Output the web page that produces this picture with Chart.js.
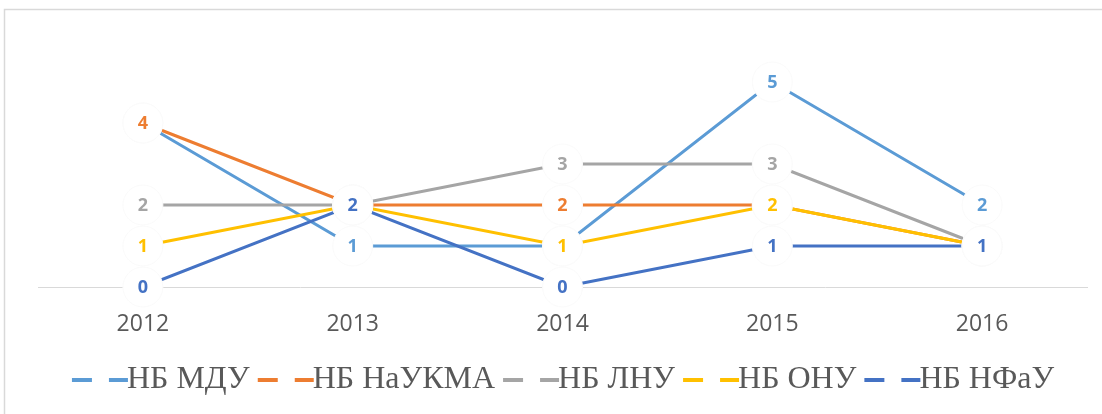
<!DOCTYPE html>
<html>
<head>
<meta charset="utf-8">
<script src="https://cdn.jsdelivr.net/npm/chart.js@4.4.0/dist/chart.umd.min.js"></script>
<style>
    html, body { margin: 0; padding: 0; background: #ffffff; }
    #wrap { width: 1102px; height: 414px; }
</style>
</head>
<body>
<div id="wrap"><canvas id="chart"></canvas></div>
<script>
// Data
const years = ['2012', '2013', '2014', '2015', '2016'];
const seriesNames = ['НБ МДУ', 'НБ НаУКМА', 'НБ ЛНУ', 'НБ ОНУ', 'НБ НФаУ'];
const mduValues = [4, 1, 1, 5, 2];
const naukmaValues = [4, 2, 2, 2, 1];
const lnuValues = [2, 2, 3, 3, 1];
const onuValues = [1, 2, 1, 2, 1];
const nfauValues = [0, 2, 0, 1, 1];

// Colors
const colors = ['#5b9bd5', '#ed7d31', '#a5a5a5', '#ffc000', '#4472c4'];
const allValues = [mduValues, naukmaValues, lnuValues, onuValues, nfauValues];

// Legend marker: dash, gap, dash (Excel style)
function makeMarker(color) {
    const c = document.createElement('canvas');
    c.width = 112;
    c.height = 6;
    const g = c.getContext('2d');
    g.fillStyle = color;
    g.fillRect(37, 1, 20, 4);
    g.fillRect(74, 1, 19, 4);
    return c;
}

// White round labels on every point, later series drawn on top
const pointLabels = {
    id: 'pointLabels',
    afterDatasetsDraw(chart) {
        const ctx = chart.ctx;
        ctx.save();
        ctx.font = "bold 18px 'Open Sans', sans-serif";
        ctx.textAlign = 'center';
        ctx.textBaseline = 'middle';
        chart.data.datasets.forEach((ds, i) => {
            const meta = chart.getDatasetMeta(i);
            meta.data.forEach((pt, j) => {
                ctx.beginPath();
                ctx.arc(pt.x, pt.y, 20, 0, Math.PI * 2);
                ctx.fillStyle = '#ffffff';
                ctx.fill();
                ctx.lineWidth = 1;
                ctx.strokeStyle = '#fafafa';
                ctx.stroke();
                ctx.fillStyle = ds.borderColor;
                ctx.fillText(String(ds.data[j]), pt.x, pt.y + 1);
            });
        });
        ctx.restore();
    }
};

// Chart frame (top and left edge)
const chartFrame = {
    id: 'chartFrame',
    beforeDraw(chart) {
        const ctx = chart.ctx;
        ctx.save();
        ctx.strokeStyle = '#d9d9d9';
        ctx.lineWidth = 1.5;
        ctx.beginPath();
        ctx.moveTo(4.5, chart.height);
        ctx.lineTo(4.5, 9.5);
        ctx.lineTo(chart.width, 9.5);
        ctx.stroke();
        ctx.restore();
    }
};

const datasets = seriesNames.map((name, i) => ({
    label: name,
    data: allValues[i],
    borderColor: colors[i],
    backgroundColor: colors[i],
    borderWidth: 3,
    pointRadius: 0,
    pointHoverRadius: 0,
    tension: 0,
    order: seriesNames.length - i
}));

new Chart(document.getElementById('chart'), {
    type: 'line',
    data: {
        labels: years,
        datasets: datasets
    },
    options: {
        responsive: true,
        maintainAspectRatio: false,
        animation: false,
        layout: {
            padding: { left: 38, right: 15, top: 41, bottom: 8 }
        },
        plugins: {
            tooltip: { enabled: false },
            legend: {
                position: 'bottom',
                labels: {
                    usePointStyle: true,
                    pointStyleWidth: 40,
                    padding: 7,
                    color: '#595959',
                    font: { family: "'Liberation Serif', serif", size: 32 },
                    generateLabels(chart) {
                        return chart.data.datasets.map((ds, i) => ({
                            text: ds.label,
                            fillStyle: ds.borderColor,
                            strokeStyle: ds.borderColor,
                            lineWidth: 0,
                            pointStyle: makeMarker(ds.borderColor),
                            fontColor: '#595959',
                            hidden: false,
                            datasetIndex: i
                        }));
                    }
                }
            }
        },
        scales: {
            x: {
                offset: true,
                grid: { display: false, drawTicks: false },
                border: { display: true, color: '#d9d9d9', width: 1 },
                ticks: {
                    color: '#595959',
                    padding: 24,
                    font: { family: "'Open Sans', sans-serif", size: 23 }
                },
                afterFit(scale) {
                    scale.height = 70;
                }
            },
            y: {
                display: false,
                min: 0,
                max: 6
            }
        }
    },
    plugins: [chartFrame, pointLabels]
});
</script>
</body>
</html>
